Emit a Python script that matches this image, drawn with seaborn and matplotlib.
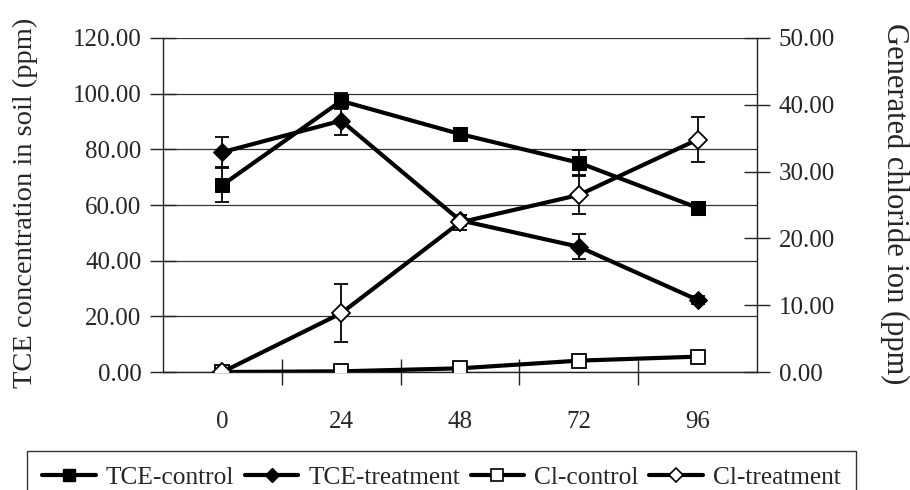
import matplotlib
matplotlib.use("Agg")
import matplotlib.pyplot as plt
import seaborn as sns
import pandas as pd
from matplotlib.lines import Line2D
from matplotlib.ticker import FixedLocator

hours = ["0", "24", "48", "72", "96"]
tce_control = [67.2, 97.4, 85.5, 75.2, 59.0]
tce_control_err = [6.2, 3.0, 2.0, 4.4, 2.0]
tce_treatment = [79.0, 90.3, 54.5, 45.0, 25.9]
tce_treatment_err = [5.4, 5.0, 2.0, 4.5, 1.5]
cl_control = [0.0, 0.1, 0.55, 1.7, 2.3]
cl_treatment = [0.0, 8.8, 22.4, 26.5, 34.8]
cl_treatment_err = [0.0, 4.3, 1.1, 2.8, 3.4]

sns.set_theme(style="white")
plt.rcParams["font.family"] = ["Liberation Serif", "DejaVu Serif"]

fig = plt.figure(figsize=(9.1, 4.9), dpi=100)
ax = fig.add_axes([163 / 910, 1 - 372 / 490, (757 - 163) / 910, (372 - 38) / 490])
ax2 = ax.twinx()

lw = 3.0
ms = 10
tick_fs = 18
eb = dict(fmt="none", ecolor="black", elinewidth=1.3, capsize=5, capthick=1.3, zorder=3)

df = pd.DataFrame({"hour": hours, "tc": tce_control, "tt": tce_treatment,
                   "cc": cl_control, "ct": cl_treatment})

# left axis series
ax.errorbar(hours, tce_control, yerr=tce_control_err, **eb)
ax.errorbar(hours, tce_treatment, yerr=tce_treatment_err, **eb)
sns.lineplot(data=df, x="hour", y="tc", ax=ax, color="black", lw=lw, marker="s",
             markersize=ms, markerfacecolor="black", markeredgecolor="black", zorder=4)
sns.lineplot(data=df, x="hour", y="tt", ax=ax, color="black", lw=lw, marker="D",
             markersize=ms - 1, markerfacecolor="black", markeredgecolor="black", zorder=4)

# right axis series
ax2.errorbar(hours, cl_treatment, yerr=cl_treatment_err, **eb)
sns.lineplot(data=df, x="hour", y="cc", ax=ax2, color="black", lw=lw, marker="s",
             markersize=ms, markerfacecolor="white", markeredgecolor="black",
             markeredgewidth=1.3, zorder=4)
sns.lineplot(data=df, x="hour", y="ct", ax=ax2, color="black", lw=lw, marker="D",
             markersize=ms - 1, markerfacecolor="white", markeredgecolor="black",
             markeredgewidth=1.3, zorder=5)

ax.set_xlim(-0.5, 4.5)
ax.set_ylim(0, 120)
ax2.set_ylim(0, 50)
ax.set_yticks([0, 20, 40, 60, 80, 100, 120])
ax.set_yticklabels([f"{v:.2f}" for v in [0, 20, 40, 60, 80, 100, 120]])
ax2.set_yticks([0, 10, 20, 30, 40, 50])
ax2.set_yticklabels([f"{v:.2f}" for v in [0, 10, 20, 30, 40, 50]])

ax.grid(axis="y", color="#333333", lw=0.9)
ax.set_axisbelow(True)
ax.set_xlabel("")
ax2.set_xlabel("")
ax.set_ylabel("TCE concentration in soil (ppm)", fontsize=20.5)
ax2.set_ylabel("Generated chloride ion (ppm)", fontsize=22, rotation=-90)

for a in (ax, ax2):
    for s in a.spines.values():
        s.set_visible(False)
for sp in (ax.spines["left"], ax2.spines["right"], ax.spines["bottom"]):
    sp.set_visible(True)
    sp.set_color("#222222")
    sp.set_linewidth(1.0)

ax.tick_params(axis="y", direction="inout", length=19, width=1, color="#222222",
               labelsize=tick_fs, pad=6, left=True)
ax2.tick_params(axis="y", direction="inout", length=19, width=1, color="#222222",
                labelsize=tick_fs, pad=6, right=True)
ax.xaxis.set_minor_locator(FixedLocator([0.5, 1.5, 2.5, 3.5]))
ax.tick_params(axis="x", which="major", length=0, labelsize=tick_fs, pad=28)
ax.tick_params(axis="x", which="minor", direction="inout", length=19, width=1,
               color="#222222", bottom=True)

# place axis labels in figure coordinates
ax.yaxis.set_label_coords(25 / 910, 1 - 203 / 490, transform=fig.transFigure)
ax.yaxis.label.set_va("center")
ax2.yaxis.set_label_coords(895 / 910, 1 - 204 / 490, transform=fig.transFigure)
ax2.yaxis.label.set_va("center")

handles = [
    Line2D([], [], color="black", lw=lw, marker="s", markersize=8,
           markerfacecolor="black", markeredgecolor="black"),
    Line2D([], [], color="black", lw=lw, marker="D", markersize=7,
           markerfacecolor="black", markeredgecolor="black"),
    Line2D([], [], color="black", lw=lw, marker="s", markersize=8,
           markerfacecolor="white", markeredgecolor="black", markeredgewidth=1.2),
    Line2D([], [], color="black", lw=lw, marker="D", markersize=7,
           markerfacecolor="white", markeredgecolor="black", markeredgewidth=1.2),
]
labels = ["TCE-control", "TCE-treatment", "Cl-control", "Cl-treatment"]
leg = fig.legend(handles, labels, loc="upper left", ncol=4,
                 bbox_to_anchor=(27 / 910, 1 - 451 / 490), fontsize=18.3,
                 frameon=True, fancybox=False, edgecolor="black",
                 handlelength=2.1, handletextpad=0.4, columnspacing=0.42,
                 borderpad=0.6, borderaxespad=0)
leg.get_frame().set_linewidth(1.0)

fig.savefig("out.png", dpi=100, facecolor="white")
